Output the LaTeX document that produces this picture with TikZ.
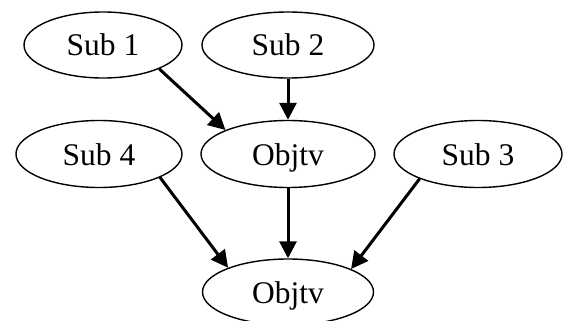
\documentclass[tikz,border=0pt]{standalone}
\usepackage{fontspec}
\setmainfont{Liberation Serif}
\usetikzlibrary{shapes.geometric,arrows.meta}
\tikzset{
  oval/.style={ellipse, draw, line width=1.4pt, inner sep=0pt, font=\fontsize{31.5}{31.5}\selectfont, text height=22pt, text depth=0pt},
  link/.style={line width=3pt, -{Triangle[length=17pt,width=17pt]}}
}
\begin{document}
\begin{tikzpicture}[x=1pt,y=1pt]
\useasboundingbox (0,0) rectangle (568,-321);
\node[oval, minimum width=158pt, minimum height=66pt] (s1) at (103,-45) {Sub 1};
\node[oval, minimum width=172pt, minimum height=66pt] (s2) at (288,-45) {Sub 2};
\node[oval, minimum width=166pt, minimum height=67pt] (s4) at (99,-154) {Sub 4};
\node[oval, minimum width=174pt, minimum height=67pt] (o1) at (288,-154) {Objtv};
\node[oval, minimum width=168pt, minimum height=67pt] (s3) at (478,-154) {Sub 3};
\node[oval, minimum width=171pt, minimum height=66pt] (o2) at (288,-292) {Objtv};
\draw[link] (s1.-23) -- (o1.159);
\draw[link] (s2.south) -- (o1.north);
\draw[link] (s4.-21) -- (o2.158);
\draw[link] (o1.south) -- (o2.north);
\draw[link] (s3.203) -- (o2.20);
\end{tikzpicture}
\end{document}
